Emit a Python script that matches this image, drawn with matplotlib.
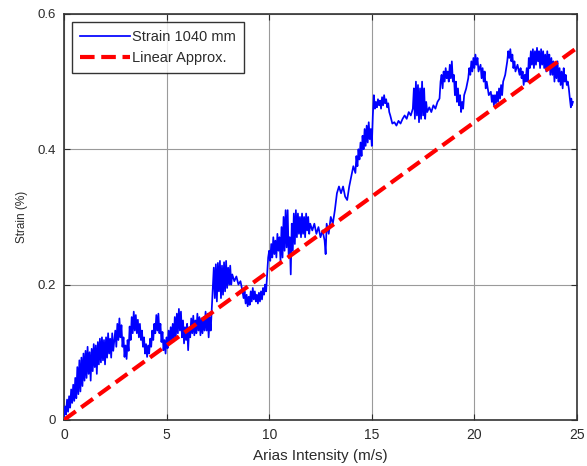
import matplotlib
matplotlib.use("Agg")
import matplotlib.pyplot as plt
import numpy as np

plt.rcParams['font.family'] = ['Liberation Sans', 'DejaVu Sans']

# Measured strain record (x: Arias intensity in m/s, y: strain in %)
arias_0 = [0.0, 0.05, 0.1, 0.15, 0.2, 0.25, 0.3, 0.35, 0.4, 0.45, 0.5, 0.55, 0.6, 0.65, 0.7, 0.75, 0.8, 0.85, 0.9, 0.95, 1.0]
strain_0 = [0.004, 0.02, 0.008, 0.03, 0.012, 0.035, 0.018, 0.045, 0.025, 0.052, 0.028, 0.062, 0.032, 0.078, 0.038, 0.088, 0.042, 0.092, 0.05, 0.098, 0.058]

arias_1 = [1.05, 1.1, 1.15, 1.2, 1.25, 1.3, 1.35, 1.4, 1.45, 1.5, 1.55, 1.6, 1.65, 1.7, 1.75, 1.8, 1.85, 1.9, 1.95, 2.0, 2.05, 2.1, 2.15, 2.2, 2.25, 2.3, 2.35, 2.4, 2.5]
strain_1 = [0.102, 0.062, 0.108, 0.068, 0.1, 0.058, 0.105, 0.072, 0.112, 0.078, 0.11, 0.068, 0.115, 0.082, 0.12, 0.085, 0.122, 0.088, 0.118, 0.082, 0.122, 0.092, 0.128, 0.098, 0.12, 0.092, 0.128, 0.102, 0.132]

arias_2 = [2.55, 2.6, 2.65, 2.7, 2.75, 2.8, 2.85, 2.9, 2.95, 3.0, 3.05, 3.1, 3.15, 3.2, 3.25, 3.3, 3.35, 3.4, 3.45, 3.5, 3.55, 3.6, 3.65, 3.7, 3.75, 3.8, 3.85, 3.9, 3.95, 4.0, 4.05, 4.1, 4.15, 4.2, 4.25, 4.3, 4.35, 4.4, 4.45, 4.5, 4.55, 4.6, 4.65, 4.7, 4.75, 4.8, 4.85, 4.9, 4.95, 5.0, 5.05, 5.1, 5.15, 5.2]
strain_2 = [0.108, 0.142, 0.118, 0.15, 0.122, 0.14, 0.108, 0.122, 0.093, 0.11, 0.09, 0.118, 0.102, 0.138, 0.118, 0.152, 0.128, 0.16, 0.132, 0.155, 0.128, 0.148, 0.122, 0.142, 0.118, 0.132, 0.108, 0.122, 0.098, 0.112, 0.093, 0.11, 0.098, 0.12, 0.108, 0.132, 0.118, 0.142, 0.128, 0.155, 0.132, 0.157, 0.128, 0.142, 0.115, 0.13, 0.103, 0.118, 0.098, 0.122, 0.106, 0.132, 0.113, 0.137]

arias_3 = [5.25, 5.3, 5.35, 5.4, 5.45, 5.5, 5.55, 5.6, 5.65, 5.7, 5.75, 5.8, 5.85, 5.9, 5.95, 6.0, 6.05, 6.1, 6.15, 6.2, 6.25, 6.3, 6.35, 6.4, 6.45, 6.5, 6.55, 6.6, 6.65, 6.7, 6.75, 6.8, 6.85, 6.9, 6.95, 7.0, 7.05, 7.1, 7.15, 7.2]
strain_3 = [0.118, 0.142, 0.116, 0.152, 0.122, 0.157, 0.128, 0.164, 0.132, 0.16, 0.122, 0.147, 0.113, 0.137, 0.118, 0.142, 0.103, 0.137, 0.122, 0.15, 0.128, 0.154, 0.125, 0.147, 0.128, 0.157, 0.132, 0.152, 0.125, 0.15, 0.128, 0.152, 0.132, 0.16, 0.132, 0.157, 0.122, 0.152, 0.132, 0.162]

arias_4 = [7.25, 7.3, 7.35, 7.4, 7.45, 7.5, 7.55, 7.6, 7.65, 7.7, 7.75, 7.8, 7.85, 7.9, 7.95, 8.0, 8.05, 8.1, 8.15, 8.2, 8.3, 8.4, 8.5, 8.6, 8.7]
strain_4 = [0.19, 0.225, 0.18, 0.23, 0.175, 0.232, 0.19, 0.235, 0.18, 0.228, 0.185, 0.233, 0.19, 0.235, 0.195, 0.225, 0.2, 0.228, 0.2, 0.215, 0.205, 0.212, 0.2, 0.205, 0.19]

arias_5 = [8.75, 8.8, 8.85, 8.9, 8.95, 9.0, 9.05, 9.1, 9.15, 9.2, 9.25, 9.3, 9.35, 9.4, 9.45, 9.5, 9.55, 9.6, 9.65, 9.7, 9.75, 9.8, 9.85, 9.9, 9.95, 10.0]
strain_5 = [0.18, 0.19, 0.172, 0.185, 0.168, 0.182, 0.17, 0.19, 0.175, 0.195, 0.178, 0.19, 0.175, 0.185, 0.172, 0.188, 0.175, 0.19, 0.178, 0.195, 0.185, 0.2, 0.19, 0.215, 0.24, 0.25]

arias_6 = [10.05, 10.1, 10.15, 10.2, 10.25, 10.3, 10.35, 10.4, 10.45, 10.5, 10.55, 10.6, 10.65, 10.7, 10.75, 10.8, 10.85, 10.9, 10.95, 11.0, 11.05, 11.1, 11.15, 11.2, 11.25, 11.3, 11.35, 11.4, 11.45, 11.5, 11.55, 11.6, 11.65, 11.7, 11.75, 11.8, 11.85, 11.9, 11.95, 12.0, 12.1, 12.2, 12.3, 12.4, 12.5, 12.6, 12.7, 12.75, 12.8, 12.9, 13.0, 13.1, 13.2]
strain_6 = [0.235, 0.26, 0.24, 0.27, 0.245, 0.265, 0.24, 0.275, 0.25, 0.27, 0.235, 0.285, 0.24, 0.3, 0.25, 0.31, 0.255, 0.31, 0.24, 0.27, 0.215, 0.29, 0.25, 0.305, 0.26, 0.31, 0.27, 0.305, 0.275, 0.3, 0.27, 0.305, 0.275, 0.3, 0.27, 0.305, 0.28, 0.3, 0.275, 0.29, 0.28, 0.29, 0.275, 0.285, 0.27, 0.28, 0.265, 0.245, 0.29, 0.275, 0.3, 0.29, 0.31]

arias_7 = [13.3, 13.4, 13.5, 13.6, 13.7, 13.8, 13.9, 14.0, 14.1, 14.2, 14.25, 14.3, 14.35, 14.4, 14.45, 14.5, 14.55, 14.6, 14.65, 14.7, 14.75, 14.8, 14.85, 14.9, 14.95, 15.0, 15.05, 15.1, 15.15]
strain_7 = [0.335, 0.345, 0.335, 0.345, 0.33, 0.325, 0.345, 0.36, 0.375, 0.365, 0.39, 0.375, 0.4, 0.385, 0.41, 0.39, 0.42, 0.4, 0.43, 0.405, 0.435, 0.41, 0.44, 0.415, 0.43, 0.405, 0.45, 0.48, 0.46]

arias_8 = [15.2, 15.25, 15.3, 15.35, 15.4, 15.45, 15.5, 15.55, 15.6, 15.65, 15.7, 15.75, 15.8, 15.85, 15.9, 16.0, 16.1, 16.2, 16.3, 16.4, 16.5, 16.6, 16.7, 16.8, 16.9, 17.0, 17.05, 17.1, 17.15, 17.2, 17.25, 17.3, 17.35, 17.4, 17.45, 17.5, 17.55, 17.6, 17.65, 17.7, 17.8, 17.9, 18.0, 18.1, 18.2, 18.3]
strain_8 = [0.47, 0.462, 0.474, 0.465, 0.472, 0.46, 0.477, 0.465, 0.48, 0.468, 0.474, 0.462, 0.468, 0.455, 0.45, 0.438, 0.44, 0.435, 0.442, 0.438, 0.445, 0.45, 0.445, 0.455, 0.45, 0.46, 0.49, 0.445, 0.5, 0.45, 0.495, 0.44, 0.49, 0.445, 0.5, 0.45, 0.49, 0.445, 0.47, 0.455, 0.462, 0.455, 0.465, 0.46, 0.47, 0.475]

arias_9 = [18.35, 18.4, 18.45, 18.5, 18.55, 18.6, 18.65, 18.7, 18.75, 18.8, 18.85, 18.9, 18.95, 19.0, 19.05, 19.1, 19.15, 19.2, 19.25, 19.3, 19.35, 19.4, 19.45, 19.5, 19.6, 19.7, 19.75, 19.8, 19.85, 19.9, 19.95, 20.0, 20.05, 20.1, 20.15, 20.2, 20.3, 20.35, 20.4, 20.45, 20.5, 20.55, 20.6, 20.7, 20.8, 20.85, 20.9, 20.95, 21.0, 21.05, 21.1, 21.15, 21.2, 21.25, 21.3, 21.35, 21.4, 21.5]
strain_9 = [0.5, 0.51, 0.49, 0.515, 0.5, 0.52, 0.505, 0.515, 0.5, 0.525, 0.505, 0.53, 0.5, 0.51, 0.48, 0.5, 0.47, 0.49, 0.465, 0.48, 0.455, 0.47, 0.46, 0.48, 0.49, 0.505, 0.52, 0.51, 0.53, 0.515, 0.535, 0.52, 0.54, 0.525, 0.535, 0.515, 0.525, 0.505, 0.52, 0.5, 0.515, 0.49, 0.5, 0.48, 0.485, 0.47, 0.48, 0.465, 0.48, 0.468, 0.485, 0.47, 0.49, 0.475, 0.495, 0.48, 0.5, 0.51]

arias_10 = [21.6, 21.65, 21.7, 21.75, 21.8, 21.85, 21.9, 21.95, 22.0, 22.1, 22.2, 22.25, 22.3, 22.35, 22.4, 22.45, 22.5, 22.55, 22.6, 22.65, 22.7, 22.75, 22.8, 22.85, 22.9, 22.95, 23.0, 23.05, 23.1, 23.15, 23.2, 23.25, 23.3, 23.35, 23.4, 23.45, 23.5, 23.55, 23.6, 23.65, 23.7, 23.75, 23.8, 23.85, 23.9, 23.95, 24.0, 24.05, 24.1, 24.15, 24.2, 24.25, 24.3, 24.35, 24.4, 24.45, 24.5, 24.55, 24.6, 24.65, 24.7, 24.72, 24.75, 24.8]
strain_10 = [0.53, 0.545, 0.535, 0.548, 0.53, 0.54, 0.52, 0.53, 0.515, 0.525, 0.51, 0.52, 0.505, 0.515, 0.495, 0.51, 0.5, 0.52, 0.5, 0.535, 0.52, 0.545, 0.525, 0.548, 0.52, 0.545, 0.525, 0.55, 0.53, 0.545, 0.52, 0.548, 0.525, 0.545, 0.52, 0.54, 0.515, 0.545, 0.52, 0.54, 0.51, 0.535, 0.51, 0.53, 0.5, 0.525, 0.505, 0.53, 0.5, 0.52, 0.495, 0.515, 0.49, 0.52, 0.5, 0.51, 0.495, 0.5, 0.49, 0.475, 0.462, 0.475, 0.465, 0.47]

arias = np.concatenate([arias_0, arias_1, arias_2, arias_3, arias_4, arias_5,
                        arias_6, arias_7, arias_8, arias_9, arias_10])
strain = np.concatenate([strain_0, strain_1, strain_2, strain_3, strain_4, strain_5,
                         strain_6, strain_7, strain_8, strain_9, strain_10])

# Linear approximation endpoints
linear_x = [0.0, 25.0]
linear_y = [0.0, 0.55]

x_ticks = [0, 5, 10, 15, 20, 25]
y_ticks = [0, 0.2, 0.4, 0.6]
y_tick_labels = ["0", "0.2", "0.4", "0.6"]

text_color = '#2b2b2b'

fig = plt.figure(figsize=(5.87, 4.66), dpi=100)
ax = fig.add_axes([0.109, 0.099, 0.874, 0.871])

ax.plot(arias, strain, color='#0000ff', lw=1.25, label='Strain 1040 mm', zorder=3)
ax.plot(linear_x, linear_y, color='#ff0000', lw=3.0, dashes=(3.5, 1.6),
        label='Linear Approx.', zorder=4)

ax.set_xlim(0, 25)
ax.set_ylim(0, 0.6)
ax.set_xticks(x_ticks)
ax.set_yticks(y_ticks)
ax.set_yticklabels(y_tick_labels)

ax.grid(True, color='#9a9a9a', lw=0.8)
ax.set_axisbelow(True)
ax.tick_params(direction='in', top=True, right=True, length=4, width=0.8,
               colors=text_color)
ax.tick_params(axis='x', labelsize=10, pad=6)
ax.tick_params(axis='y', labelsize=9.5, pad=6)
for sp in ax.spines.values():
    sp.set_color('#333333')
    sp.set_linewidth(1.2)

ax.set_xlabel('Arias Intensity (m/s)', fontsize=11, color=text_color, labelpad=5)
ax.set_ylabel('Strain (%)', fontsize=8.5, color=text_color, labelpad=7)

leg = ax.legend(loc='upper left', bbox_to_anchor=(0.016, 0.98), borderaxespad=0,
                fontsize=10.5, frameon=True, fancybox=False, handlelength=3.4,
                handletextpad=0.15, borderpad=0.55, labelspacing=0.5)
leg.get_frame().set_edgecolor('#000000')
leg.get_frame().set_linewidth(1.0)
for t in leg.get_texts():
    t.set_color(text_color)

fig.savefig('out.png', dpi=100)
